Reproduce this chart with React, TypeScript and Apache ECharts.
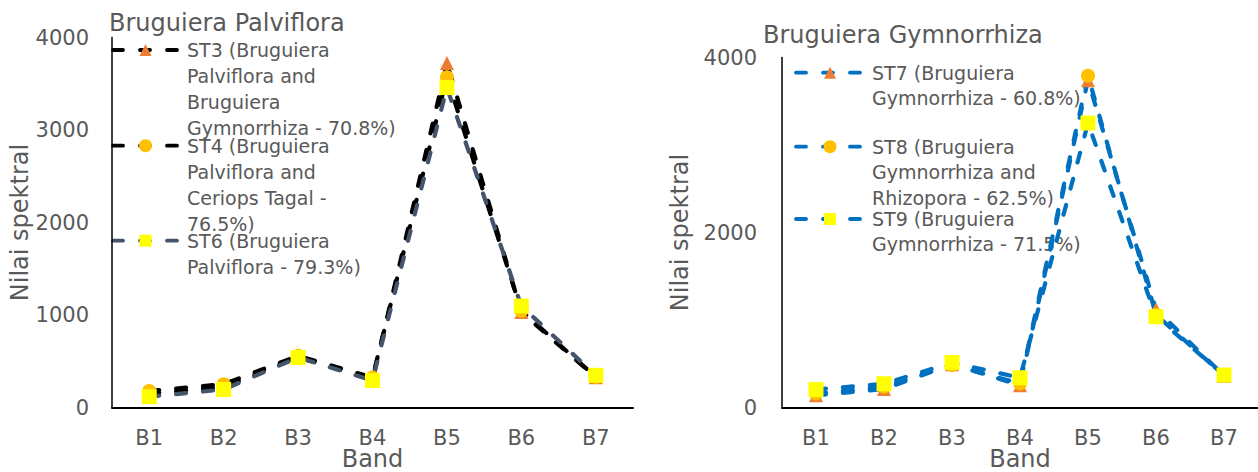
import React, { useEffect, useRef } from "react";
import * as echarts from "echarts";

// Band categories shared by both panels
const bands = ["B1", "B2", "B3", "B4", "B5", "B6", "B7"];

// Left panel: Bruguiera Palviflora stations
const st3 = [150, 220, 545, 300, 3724, 1032, 326];
const st4 = [178, 252, 559, 324, 3571, 1045, 330];
const st6 = [117, 195, 541, 292, 3459, 1097, 348];

// Right panel: Bruguiera Gymnorrhiza stations
const st7 = [139, 211, 495, 254, 3740, 1122, 362];
const st8 = [160, 237, 486, 274, 3792, 1060, 365];
const st9 = [206, 271, 514, 340, 3251, 1037, 371];

const titles = ["Bruguiera Palviflora", "Bruguiera Gymnorrhiza"];
const yName = "Nilai spektral";
const xName = "Band";

// Series names, wrapped the way the legend shows them
const leftNames = [
  "ST3 (Bruguiera\nPalviflora and\nBruguiera\nGymnorrhiza - 70.8%)",
  "ST4 (Bruguiera\nPalviflora and\nCeriops Tagal -\n76.5%)",
  "ST6 (Bruguiera\nPalviflora - 79.3%)",
];
const rightNames = [
  "ST7 (Bruguiera\nGymnorrhiza - 60.8%)",
  "ST8 (Bruguiera\nGymnorrhiza and\nRhizopora - 62.5%)",
  "ST9 (Bruguiera\nGymnorrhiza - 71.5%)",
];

const TEXT = "#595959";
const FONT = "DejaVu Sans";
const ORANGE = "#ED7D31";
const GOLD = "#FFC000";
const YELLOW = "#FFFF00";
const DASH = [10, 17];

type Mark = "triangle" | "circle" | "rect";

const markSize: Record<Mark, number> = { triangle: 14, circle: 14, rect: 15 };

function lineSeries(
  name: string,
  data: number[],
  axis: number,
  lineColor: string,
  mark: Mark,
  markColor: string
) {
  return {
    type: "line",
    name: name.replace(/\n/g, " "),
    data,
    xAxisIndex: axis,
    yAxisIndex: axis,
    symbol: mark,
    symbolSize: markSize[mark],
    showAllSymbol: true,
    lineStyle: { color: lineColor, width: 4.2, type: DASH, cap: "round" },
    itemStyle: { color: markColor, borderWidth: 0 },
    emphasis: { disabled: true },
  };
}

// Hand-built legend entry: dashed swatch, marker, wrapped label
function legendEntry(
  x0: number,
  yc: number,
  lineHeight: number,
  lineColor: string,
  mark: Mark,
  markColor: string,
  label: string,
  markX: number,
  textX: number
) {
  const mx = x0 + markX;
  let marker: any;
  if (mark === "triangle") {
    const s = 12;
    marker = {
      type: "polygon",
      shape: { points: [[mx, yc - s / 2], [mx + s / 2, yc + s / 2], [mx - s / 2, yc + s / 2]] },
      style: { fill: markColor },
    };
  } else if (mark === "circle") {
    marker = { type: "circle", shape: { cx: mx, cy: yc, r: 6.5 }, style: { fill: markColor } };
  } else {
    marker = { type: "rect", shape: { x: mx - 6, y: yc - 6, width: 12, height: 12 }, style: { fill: markColor } };
  }
  return [
    {
      type: "line",
      shape: { x1: x0 + 1, y1: yc, x2: x0 + 70, y2: yc },
      style: { stroke: lineColor, lineWidth: 3.8, lineDash: DASH, lineCap: "round" },
    },
    marker,
    {
      type: "text",
      x: x0 + textX,
      y: yc - lineHeight / 2,
      style: {
        text: label,
        fill: TEXT,
        font: `19px "${FONT}"`,
        lineHeight,
        verticalAlign: "top",
        align: "left",
      },
    },
  ];
}

function yAxis(gridIndex: number, interval: number, labelMargin: number, nameGap: number) {
  return {
    type: "value",
    gridIndex,
    min: 0,
    max: 4000,
    interval,
    name: yName,
    nameLocation: "middle",
    nameGap,
    nameTextStyle: { color: TEXT, fontSize: 24, fontFamily: FONT },
    axisLine: { show: true, lineStyle: { color: "#000", width: 1.5 } },
    axisTick: { show: false },
    splitLine: { show: false },
    axisLabel: {
      color: TEXT,
      fontSize: 21,
      fontFamily: FONT,
      margin: labelMargin,
      formatter: (v: number) => String(v),
    },
  };
}

function xAxis(gridIndex: number) {
  return {
    type: "category",
    gridIndex,
    data: bands,
    boundaryGap: true,
    name: xName,
    nameLocation: "middle",
    nameGap: 39,
    nameMoveOverlap: false,
    nameTextStyle: { color: TEXT, fontSize: 24, fontFamily: FONT },
    axisLine: { show: true, lineStyle: { color: "#000", width: 2 } },
    axisTick: { show: false },
    axisLabel: { color: TEXT, fontSize: 21, fontFamily: FONT, margin: 20 },
    splitLine: { show: false },
  };
}

export default function App() {
  const ref = useRef<HTMLDivElement>(null);

  useEffect(() => {
    if (!ref.current) return;
    const chart = echarts.init(ref.current, undefined, { renderer: "svg" });

    const leftColors = ["#000000", "#000000", "#44546A"];
    const rightColors = ["#0070C0", "#0070C0", "#0070C0"];
    const marks: Mark[] = ["triangle", "circle", "rect"];
    const markColors = [ORANGE, GOLD, YELLOW];

    const leftYs = [50, 145.7, 240.7];
    const rightYs = [72.7, 146.7, 219];

    const graphics: any[] = [];
    leftNames.forEach((n, i) => {
      graphics.push(...legendEntry(112, leftYs[i], 26, leftColors[i], marks[i], markColors[i], n, 33.5, 75));
    });
    rightNames.forEach((n, i) => {
      graphics.push(...legendEntry(795, rightYs[i], 25.4, rightColors[i], marks[i], markColors[i], n, 35, 77));
    });

    chart.setOption({
      animation: false,
      textStyle: { fontFamily: FONT },
      title: [
        {
          text: titles[0],
          left: 109,
          top: 11,
          padding: 0,
          textStyle: { color: TEXT, fontSize: 24, fontWeight: "normal", fontFamily: FONT },
        },
        {
          text: titles[1],
          left: 763,
          top: 23,
          padding: 0,
          textStyle: { color: TEXT, fontSize: 24, fontWeight: "normal", fontFamily: FONT },
        },
      ],
      grid: [
        { left: 112, top: 37.5, width: 521, height: 370, outerBoundsMode: "none", containLabel: false },
        { left: 782, top: 57.5, width: 476, height: 350, outerBoundsMode: "none", containLabel: false },
      ],
      xAxis: [xAxis(0), xAxis(1)],
      yAxis: [yAxis(0, 1000, 23, 70), yAxis(1, 2000, 25, 90)],
      series: [
        lineSeries(leftNames[0], st3, 0, leftColors[0], marks[0], markColors[0]),
        lineSeries(leftNames[1], st4, 0, leftColors[1], marks[1], markColors[1]),
        lineSeries(leftNames[2], st6, 0, leftColors[2], marks[2], markColors[2]),
        lineSeries(rightNames[0], st7, 1, rightColors[0], marks[0], markColors[0]),
        lineSeries(rightNames[1], st8, 1, rightColors[1], marks[1], markColors[1]),
        lineSeries(rightNames[2], st9, 1, rightColors[2], marks[2], markColors[2]),
      ],
      graphic: graphics,
    });

    return () => chart.dispose();
  }, []);

  return (
    <div
      ref={ref}
      style={{ position: "fixed", left: 0, top: 0, width: 1258, height: 472, background: "#fff" }}
    />
  );
}
